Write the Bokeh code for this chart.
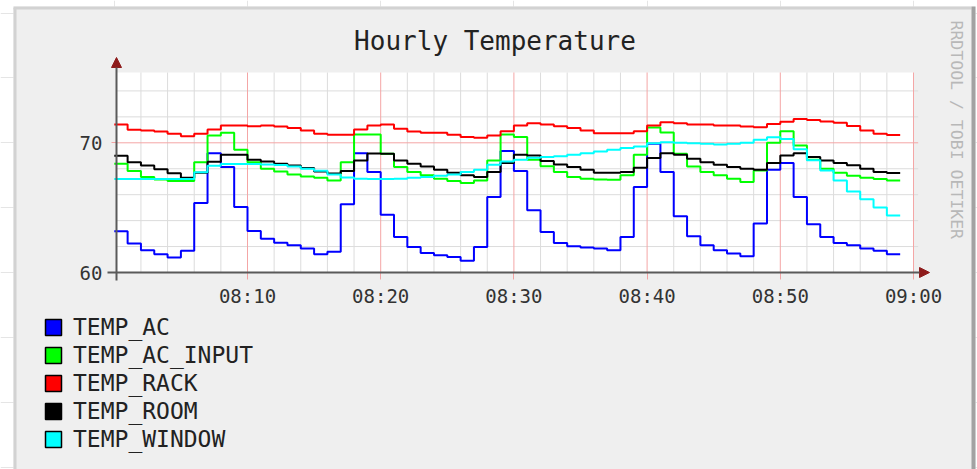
import numpy as np
from bokeh.plotting import figure
from bokeh.models import (Range1d, FixedTicker, Arrow, NormalHead, Label,
                          Legend, LegendItem, LinearAxis)
from bokeh.embed import file_html
from bokeh.resources import INLINE

# one sample per minute, minute offset from 08:00 (value covers [m, m+1))
minutes = list(range(59))

temp_ac = [63.18, 62.23, 61.72, 61.41, 61.15, 61.67, 65.36, 69.20, 68.13, 65.05,
           63.20, 62.60, 62.30, 62.10, 61.85, 61.41, 61.60, 65.26, 69.20, 67.74,
           64.46, 62.74, 61.97, 61.51, 61.33, 61.20, 60.90, 61.97, 65.82, 69.36,
           67.82, 64.80, 63.13, 62.28, 62.03, 61.92, 61.85, 61.72, 62.74, 66.59,
           69.92, 67.74, 64.33, 62.79, 62.10, 61.72, 61.46, 61.26, 63.77, 67.92,
           68.44, 65.82, 63.72, 62.74, 62.28, 62.10, 61.85, 61.67, 61.41]

temp_ac_input = [68.38, 67.82, 67.36, 67.18, 67.05, 67.05, 68.51, 70.56, 70.77, 69.46,
                 68.51, 68.00, 67.79, 67.56, 67.41, 67.31, 67.10, 68.51, 70.64, 70.64,
                 69.15, 68.13, 67.74, 67.49, 67.23, 67.05, 66.90, 67.10, 68.64, 70.64,
                 70.44, 68.70, 68.20, 67.74, 67.36, 67.23, 67.18, 67.15, 67.49, 69.08,
                 71.18, 70.80, 69.15, 68.18, 67.74, 67.49, 67.23, 66.97, 67.87, 70.00,
                 70.90, 69.80, 68.70, 68.00, 67.70, 67.45, 67.30, 67.20, 67.10]

temp_rack = [71.41, 71.00, 70.95, 70.87, 70.69, 70.51, 70.69, 71.03, 71.33, 71.33,
             71.28, 71.33, 71.26, 71.15, 70.95, 70.69, 70.62, 70.62, 71.03, 71.33,
             71.41, 71.08, 70.87, 70.77, 70.77, 70.62, 70.44, 70.38, 70.56, 70.90,
             71.33, 71.51, 71.41, 71.28, 71.15, 70.95, 70.74, 70.74, 70.74, 70.90,
             71.33, 71.59, 71.51, 71.41, 71.41, 71.33, 71.33, 71.26, 71.20, 71.45,
             71.62, 71.83, 71.75, 71.64, 71.55, 71.30, 70.95, 70.69, 70.60]

temp_room = [69.00, 68.50, 68.25, 67.96, 67.65, 67.30, 67.70, 68.53, 69.07, 69.07,
             68.70, 68.56, 68.38, 68.25, 68.05, 67.78, 67.63, 67.82, 68.63, 69.17,
             69.15, 68.64, 68.38, 68.18, 67.92, 67.70, 67.49, 67.36, 67.74, 68.44,
             69.08, 69.03, 68.59, 68.33, 68.13, 67.92, 67.69, 67.69, 67.74, 68.08,
             68.82, 69.20, 69.08, 68.77, 68.51, 68.31, 68.13, 68.00, 67.92, 68.44,
             69.03, 69.20, 68.90, 68.64, 68.44, 68.26, 68.00, 67.74, 67.67]

temp_window = [67.20, 67.20, 67.20, 67.20, 67.20, 67.20, 67.72, 68.23, 68.36, 68.36,
               68.36, 68.33, 68.28, 68.18, 68.00, 67.85, 67.55, 67.32, 67.22, 67.20,
               67.20, 67.23, 67.30, 67.36, 67.45, 67.56, 67.74, 67.92, 68.30, 68.55,
               68.70, 68.85, 68.90, 68.97, 69.08, 69.20, 69.33, 69.46, 69.59, 69.72,
               69.97, 70.05, 70.00, 69.97, 69.92, 69.87, 69.92, 70.00, 70.23, 70.42,
               70.30, 69.50, 68.65, 67.86, 67.10, 66.25, 65.65, 65.02, 64.40]

series_names = ["TEMP_AC", "TEMP_AC_INPUT", "TEMP_RACK", "TEMP_ROOM", "TEMP_WINDOW"]
series_values = [temp_ac, temp_ac_input, temp_rack, temp_room, temp_window]
series_colors = ["#0000FF", "#00FF00", "#FF0000", "#000000", "#00FFFF"]

x_ticks = [10, 20, 30, 40, 50, 60]
x_tick_labels = ["08:10", "08:20", "08:30", "08:40", "08:50", "09:00"]
x_minor = [2, 4, 6, 8, 12, 14, 16, 18, 22, 24, 26, 28, 32, 34, 36, 38,
           42, 44, 46, 48, 52, 54, 56, 58]
y_ticks = [60, 70]
y_minor = [62, 64, 66, 68, 72, 74]

title_text = "Hourly Temperature"
side_text = "RRDTOOL / TOBI OETIKER"

MONO = "DejaVu Sans Mono"
W, H = 977, 469

# pixel <-> data helpers (layout only)
X0, SX = 113.8, 13.32      # canvas x of 08:00, px per minute
Y60, SY = 272.0, 12.97     # canvas y of 60 degrees, px per degree


def px_x(px):
    return (px - X0) / SX


def px_y(py):
    return 60 + (Y60 - py) / SY


x_lo, x_hi = px_x(116), 60.0
y_lo, y_hi = 60.0, px_y(72)

p = figure(width=W, height=H,
           x_range=Range1d(px_x(0), px_x(W)), y_range=Range1d(px_y(H), px_y(0)),
           toolbar_location=None, output_backend="svg",
           x_axis_location=None, y_axis_location=None,
           min_border=0, background_fill_color="white",
           border_fill_color="white", outline_line_color=None)

# gray panel with frame
p.quad(left=[px_x(13)], right=[px_x(975)], top=[px_y(6)], bottom=[px_y(H + 10)],
       fill_color="#EFEFEF", line_color=None)
p.segment(x0=[px_x(14.5), px_x(13)], y0=[px_y(H + 10), px_y(7.5)],
          x1=[px_x(14.5), px_x(971)], y1=[px_y(7.5), px_y(7.5)],
          line_color="#D2D2D2", line_width=3)
p.segment(x0=[px_x(973)], y0=[px_y(H + 10)], x1=[px_x(973)], y1=[px_y(6)],
          line_color="#A2A2A2", line_width=4)

# plot area
p.quad(left=[x_lo], right=[x_hi], top=[y_hi], bottom=[y_lo],
       fill_color="white", line_color=None)

# grid lines
p.segment(x0=x_minor, y0=[y_lo] * len(x_minor), x1=x_minor, y1=[y_hi] * len(x_minor),
          line_color="#DCDCDC", line_width=1)
p.segment(x0=[x_lo] * len(y_minor), y0=y_minor, x1=[x_hi + 0.35] * len(y_minor), y1=y_minor,
          line_color="#DCDCDC", line_width=1)
p.segment(x0=x_ticks, y0=[y_lo] * len(x_ticks), x1=x_ticks, y1=[y_hi] * len(x_ticks),
          line_color="#F4A6A6", line_width=1)
p.segment(x0=[x_lo] * len(y_ticks), y0=y_ticks, x1=[x_hi + 0.35] * len(y_ticks), y1=y_ticks,
          line_color="#F4A6A6", line_width=1)

# axes (drawn at fixed positions)
xaxis = LinearAxis(fixed_location=60, ticker=FixedTicker(ticks=x_ticks),
                   major_label_overrides={t: l for t, l in zip(x_ticks, x_tick_labels)})
yaxis = LinearAxis(fixed_location=x_lo, ticker=FixedTicker(ticks=y_ticks))
for ax in (xaxis, yaxis):
    ax.axis_line_color = None
    ax.major_tick_line_color = "#F3A3A3"
    ax.major_tick_in = 0
    ax.minor_tick_line_color = None
    ax.major_label_text_font = MONO
    ax.major_label_text_font_size = "19px"
    ax.major_label_text_color = "#333333"
xaxis.major_tick_out = 7
xaxis.major_label_standoff = 5
yaxis.major_tick_out = 5
yaxis.major_label_standoff = 9
p.add_layout(xaxis, "below")
p.add_layout(yaxis, "left")

# data lines (step, value held for one minute)
for vals, col in zip(series_values, series_colors):
    xs = minutes + [minutes[-1] + 1]
    ys = vals + [vals[-1]]
    p.step(xs, ys, mode="after", line_color=col, line_width=2)

# axis lines with arrow heads
head_col = "#8E1B1B"
p.add_layout(Arrow(end=NormalHead(size=10, fill_color=head_col, line_color=head_col),
                   x_start=x_lo, y_start=px_y(280), x_end=x_lo, y_end=px_y(57),
                   line_color="#5A5A5A", line_width=2))
p.add_layout(Arrow(end=NormalHead(size=10, fill_color=head_col, line_color=head_col),
                   x_start=px_x(107), y_start=60, x_end=px_x(929), y_end=60,
                   line_color="#5A5A5A", line_width=2))

# legend with filled boxes (legend-only renderers, no visible marks)
items = []
for name, col in zip(series_names, series_colors):
    r = p.quad(left=[np.nan], right=[np.nan], top=[np.nan], bottom=[np.nan],
               fill_color=col, line_color="black", line_width=1.5)
    items.append(LegendItem(label=name, renderers=[r]))
legend = Legend(items=items, location=(43, 17), orientation="vertical",
                glyph_width=20, glyph_height=20, label_height=20, spacing=2,
                padding=0, margin=0, label_standoff=10,
                border_line_color=None, background_fill_alpha=0,
                label_text_font=MONO, label_text_font_size="23px",
                label_text_color="#222222")
p.add_layout(legend)

# title and side text
p.add_layout(Label(x=px_x(494.5), y=px_y(40), text=title_text,
                   text_align="center", text_baseline="middle",
                   text_font=MONO, text_font_size="26px", text_color="#222222"))
p.add_layout(Label(x=px_x(956), y=px_y(20), text=side_text,
                   angle=-np.pi / 2, text_align="left", text_baseline="middle",
                   text_font=MONO, text_font_size="16.5px", text_color="#B8B8B8"))

open("out.html", "w").write(file_html(p, INLINE))
